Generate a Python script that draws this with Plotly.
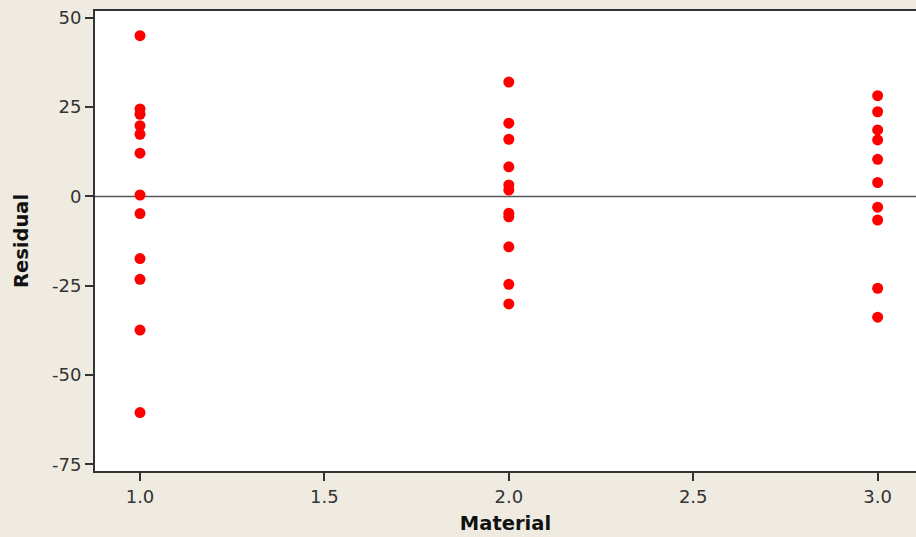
import plotly.graph_objects as go

material_1 = [45.0, 24.5, 23.0, 19.8, 17.4, 12.1, 0.4, -4.8, -17.4, -23.2, -37.4, -60.5]
material_2 = [32.0, 20.5, 16.0, 8.3, 3.2, 1.8, -4.7, -5.7, -14.1, -24.6, -30.1]
material_3 = [28.2, 23.7, 18.6, 15.8, 10.4, 3.9, -3.0, -6.6, -25.7, -33.8]

x_vals = [1.0] * len(material_1) + [2.0] * len(material_2) + [3.0] * len(material_3)
residuals = material_1 + material_2 + material_3

x_ticks = [1.0, 1.5, 2.0, 2.5, 3.0]
x_tick_labels = ["1.0", "1.5", "2.0", "2.5", "3.0"]
y_ticks = [50, 25, 0, -25, -50, -75]
y_tick_labels = ["50", "25", "0", "-25", "-50", "-75"]

BG = "#EFEBE1"
AX = "#333333"

fig = go.Figure()
fig.add_trace(go.Scatter(
    x=x_vals, y=residuals, mode="markers",
    marker=dict(color="#FF0000", size=11, line=dict(width=0)),
    showlegend=False, hoverinfo="x+y",
))

fig.update_layout(
    width=916, height=537,
    paper_bgcolor=BG, plot_bgcolor="white",
    margin=dict(l=95, r=0, t=11, b=66, pad=0),
    font=dict(family="DejaVu Sans", color=AX),
    shapes=[dict(type="line", xref="paper", x0=0, x1=1, yref="y", y0=0, y1=0,
                 line=dict(color="#555555", width=1.5), layer="below")],
)
fig.update_xaxes(
    range=[0.878, 3.104], tickvals=x_ticks, ticktext=x_tick_labels,
    showgrid=False, zeroline=False,
    showline=True, linecolor=AX, linewidth=2, mirror=True,
    ticks="outside", ticklen=8, tickwidth=1.5, tickcolor=AX,
    tickfont=dict(size=18, color=AX),
    title=dict(text="<b>Material</b>", font=dict(size=19.5, color="#111111"), standoff=11),
)
fig.update_yaxes(
    range=[-76.85, 51.9], tickvals=y_ticks, ticktext=y_tick_labels,
    showgrid=False, zeroline=False,
    showline=True, linecolor=AX, linewidth=2, mirror=False,
    ticks="outside", ticklen=8, tickwidth=1.5, tickcolor=AX,
    tickfont=dict(size=18, color=AX),
    title=dict(text="<b>Residual</b>", font=dict(size=19.5, color="#111111"), standoff=18),
)

fig.write_html(
    "out.html",
    config={"displayModeBar": False},
    post_script="document.body.style.margin='0';document.body.style.overflow='hidden';",
)
